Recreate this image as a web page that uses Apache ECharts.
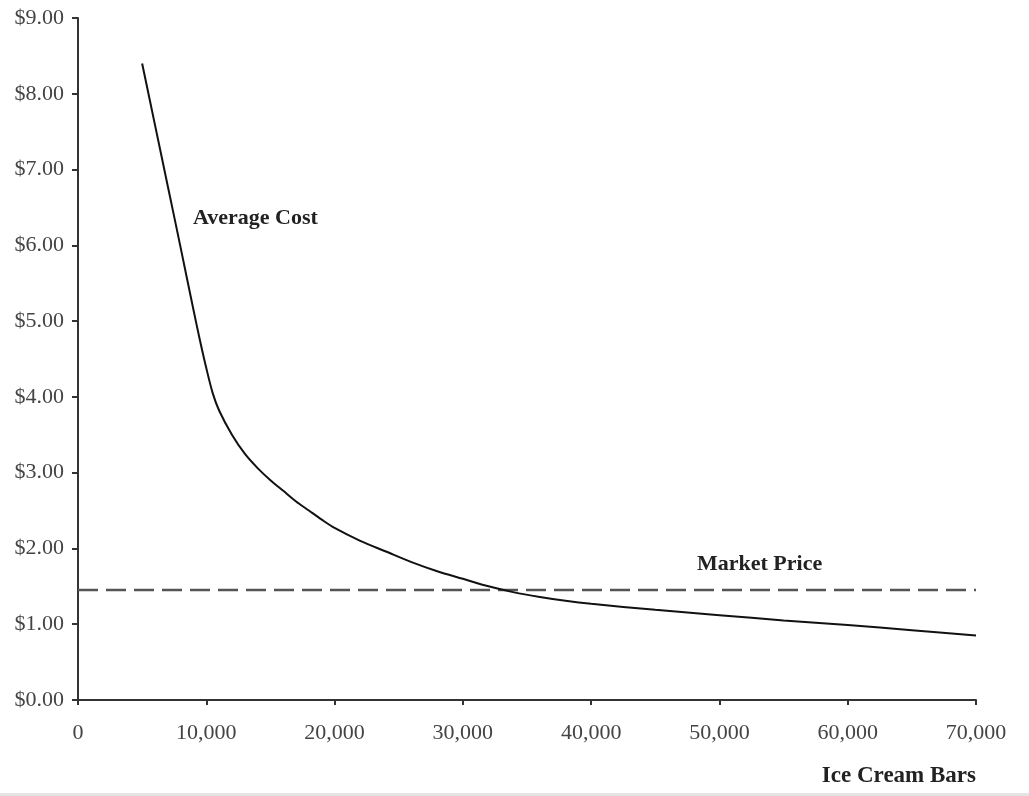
<!DOCTYPE html>
<html>
<head>
<meta charset="utf-8">
<script src="https://cdn.jsdelivr.net/npm/echarts@6/dist/echarts.min.js"></script>
<style>
html,body{margin:0;padding:0;background:#fff;}
#chart{width:1029px;height:796px;}
</style>
</head>
<body>
<div id="chart"></div>
<script>
// Quantity of ice cream bars (x) and average cost per bar (y)
var quantities = [5000, 6000, 7000, 8000, 9000, 9500, 10000, 10500, 11000, 12000, 13000, 14000, 15000, 16000, 17000, 18000, 19000, 20000, 22000, 24000, 26000, 28000, 30000, 32000, 34000, 36000, 38000, 40000, 45000, 50000, 55000, 60000, 65000, 70000];
var averageCost = [8.40, 7.59, 6.78, 5.97, 5.15, 4.75, 4.38, 4.05, 3.82, 3.50, 3.25, 3.06, 2.90, 2.76, 2.62, 2.50, 2.38, 2.27, 2.10, 1.96, 1.82, 1.70, 1.60, 1.50, 1.42, 1.36, 1.31, 1.27, 1.19, 1.12, 1.05, 0.99, 0.92, 0.85];
var marketPrice = 1.45;
var marketRange = [0, 70000];
var xTicks = [0, 10000, 20000, 30000, 40000, 50000, 60000, 70000];
var yTicks = [0, 1, 2, 3, 4, 5, 6, 7, 8, 9];

var serif = '"Liberation Serif", "DejaVu Serif", serif';

var chart = echarts.init(document.getElementById('chart'), null, {renderer: 'canvas'});
var option = {
  animation: false,
  backgroundColor: '#ffffff',
  grid: {left: 78, right: 53, top: 18, bottom: 96, containLabel: false},
  xAxis: {
    type: 'value',
    min: xTicks[0],
    max: xTicks[xTicks.length - 1],
    interval: 10000,
    axisLine: {show: true, onZero: false, lineStyle: {color: '#333', width: 2}},
    axisTick: {show: true, length: 5, lineStyle: {color: '#333', width: 2}},
    splitLine: {show: false},
    axisLabel: {
      margin: 22, color: '#444', fontFamily: serif, fontSize: 22,
      formatter: function (v) { return v.toLocaleString('en-US'); }
    }
  },
  yAxis: {
    type: 'value',
    min: yTicks[0],
    max: yTicks[yTicks.length - 1],
    interval: 1,
    axisLine: {show: true, onZero: false, lineStyle: {color: '#333', width: 2}},
    axisTick: {show: true, length: 6, lineStyle: {color: '#333', width: 2}},
    splitLine: {show: false},
    axisLabel: {
      margin: 14, color: '#444', fontFamily: serif, fontSize: 22,
      formatter: function (v) { return '$' + v.toFixed(2); }
    }
  },
  series: [
    {
      name: 'Average Cost',
      type: 'line',
      data: quantities.map(function (q, i) { return [q, averageCost[i]]; }),
      smooth: 0.3,
      showSymbol: false,
      lineStyle: {color: '#111', width: 2},
      z: 3
    },
    {
      name: 'Market Price',
      type: 'line',
      data: marketRange.map(function (q) { return [q, marketPrice]; }),
      showSymbol: false,
      lineStyle: {color: '#555', width: 2.5, type: [20, 8]},
      z: 2
    }
  ],
  graphic: [
    {type: 'text', left: 193, top: 207, style: {text: 'Average Cost', font: 'bold 22px ' + serif, fill: '#222'}},
    {type: 'text', left: 697, top: 553, style: {text: 'Market Price', font: 'bold 22px ' + serif, fill: '#222'}},
    {type: 'text', right: 53, top: 765, style: {text: 'Ice Cream Bars', font: 'bold 23px ' + serif, fill: '#222'}},
    {type: 'rect', left: 0, top: 793, shape: {width: 1029, height: 3}, style: {fill: '#e4e4e4'}}
  ]
};
chart.setOption(option);
</script>
</body>
</html>
